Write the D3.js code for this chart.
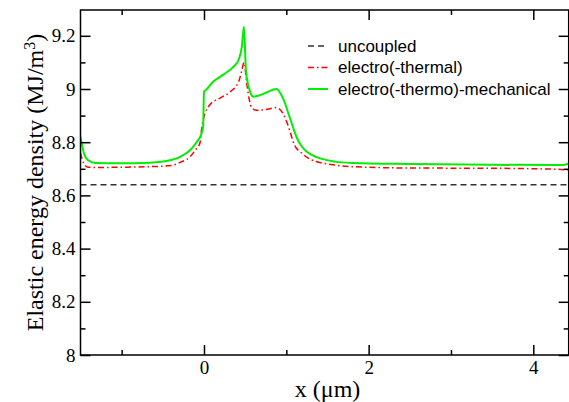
<!DOCTYPE html>
<html>
<head>
<meta charset="utf-8">
<script src="https://cdn.jsdelivr.net/npm/d3@7"></script>
<style>
  body { margin: 0; background: #fff; }
  svg { display: block; }
</style>
</head>
<body>
<div id="chart"></div>
<script>
// data
const xUncoupled = [-1.5, 4.43];
const yUncoupled = [8.64, 8.64];

const xThermal = [-1.5, -1.46, -1.41, -1.32, -1.0, -0.66, -0.4, -0.29, -0.17, -0.09, -0.05, -0.03, -0.01,
  0.07, 0.19, 0.32, 0.42, 0.46, 0.485, 0.52, 0.55, 0.58, 0.64, 0.74, 0.88, 0.96, 1.02, 1.1, 1.19, 1.31,
  1.59, 1.8, 2.5, 3.5, 4.3, 4.43];
const yThermal = [8.76, 8.72, 8.706, 8.705, 8.706, 8.708, 8.712, 8.724, 8.745, 8.777, 8.796, 8.846, 8.883,
  8.94, 8.965, 8.99, 9.027, 9.07, 9.10, 9.02, 8.96, 8.93, 8.92, 8.922, 8.93, 8.908, 8.864, 8.789, 8.758, 8.733,
  8.714, 8.708, 8.703, 8.702, 8.698, 8.695];

const xMech = [-1.5, -1.46, -1.41, -1.32, -1.0, -0.66, -0.4, -0.29, -0.17, -0.09, -0.03, -0.01, 0.0,
  0.02, 0.11, 0.23, 0.36, 0.42, 0.46, 0.485, 0.51, 0.56, 0.6, 0.68, 0.76, 0.88, 0.96, 1.045, 1.13, 1.19,
  1.31, 1.59, 1.8, 2.5, 3.5, 4.35, 4.43];
const yMech = [8.82, 8.76, 8.733, 8.722, 8.721, 8.723, 8.733, 8.745, 8.77, 8.80, 8.833, 8.86, 8.99,
  8.995, 9.027, 9.053, 9.084, 9.109, 9.159, 9.234, 9.068, 8.99, 8.971, 8.977, 8.987, 9.0, 8.965, 8.89, 8.815, 8.783,
  8.752, 8.727, 8.722, 8.718, 8.715, 8.714, 8.72];

const xTicks = [0, 2, 4];
const xMinor = [-1, 1, 3];
const yTicks = [8, 8.2, 8.4, 8.6, 8.8, 9, 9.2];
const yMinor = [8.1, 8.3, 8.5, 8.7, 8.9, 9.1];

const width = 569, height = 402;
const pLeft = 80.5, pRight = 568.7, pTop = 10, pBottom = 355;

const svg = d3.select("#chart")
  .append("svg")
  .attr("width", width)
  .attr("height", height);

const x = d3.scaleLinear().domain([-1.5, 4.43]).range([pLeft, pRight]);
const y = d3.scaleLinear().domain([8, 9.297]).range([pBottom, pTop]);

svg.append("clipPath").attr("id", "clip")
  .append("rect")
  .attr("x", pLeft).attr("y", pTop)
  .attr("width", pRight - pLeft).attr("height", pBottom - pTop);

const line = d3.line()
  .x(d => x(d[0]))
  .y(d => y(d[1]))
  .curve(d3.curveMonotoneX);

const series = [
  {name: "uncoupled", xs: xUncoupled, ys: yUncoupled, color: "#333", width: 1.3, dash: "6,4"},
  {name: "electro(-thermal)", xs: xThermal, ys: yThermal, color: "#ff0000", width: 1.5, dash: "6,3,1.5,3"},
  {name: "electro(-thermo)-mechanical", xs: xMech, ys: yMech, color: "#00ee00", width: 2, dash: null}
];

const g = svg.append("g").attr("clip-path", "url(#clip)");
g.selectAll("path")
  .data(series)
  .join("path")
  .attr("fill", "none")
  .attr("stroke", d => d.color)
  .attr("stroke-width", d => d.width)
  .attr("stroke-dasharray", d => d.dash)
  .attr("d", d => line(d.xs.map((v, i) => [v, d.ys[i]])));

// frame and inward ticks
const axisFont = "'Liberation Serif', 'Times New Roman', serif";

function styleLabels(a) {
  a.select(".domain").remove();
  a.attr("font-family", null).attr("font-size", null);
  a.selectAll("text")
    .style("font-family", axisFont)
    .style("font-size", "19px")
    .attr("fill", "#000");
}

svg.append("g")
  .attr("transform", `translate(0,${pBottom})`)
  .call(d3.axisBottom(x).tickValues(xTicks).tickSizeInner(-10).tickSizeOuter(0).tickPadding(6).tickFormat(d3.format("d")))
  .call(styleLabels);

svg.append("g")
  .attr("transform", `translate(0,${pBottom})`)
  .call(d3.axisBottom(x).tickValues(xMinor).tickSizeInner(-5).tickSizeOuter(0).tickFormat(""))
  .call(a => a.select(".domain").remove());

svg.append("g")
  .attr("transform", `translate(0,${pTop})`)
  .call(d3.axisTop(x).tickValues(xTicks).tickSizeInner(-10).tickSizeOuter(0).tickFormat(""))
  .call(a => a.select(".domain").remove());
svg.append("g")
  .attr("transform", `translate(0,${pTop})`)
  .call(d3.axisTop(x).tickValues(xMinor).tickSizeInner(-5).tickSizeOuter(0).tickFormat(""))
  .call(a => a.select(".domain").remove());

svg.append("g")
  .attr("transform", `translate(${pLeft},0)`)
  .call(d3.axisLeft(y).tickValues(yTicks).tickSizeInner(-10).tickSizeOuter(0).tickFormat(d3.format("")))
  .call(styleLabels)
  .call(a => a.selectAll("text").attr("x", -5));

svg.append("g")
  .attr("transform", `translate(${pLeft},0)`)
  .call(d3.axisLeft(y).tickValues(yMinor).tickSizeInner(-5).tickSizeOuter(0).tickFormat(""))
  .call(a => a.select(".domain").remove());

svg.append("g")
  .attr("transform", `translate(${pRight},0)`)
  .call(d3.axisRight(y).tickValues(yTicks).tickSizeInner(-10).tickSizeOuter(0).tickFormat(""))
  .call(a => a.select(".domain").remove());
svg.append("g")
  .attr("transform", `translate(${pRight},0)`)
  .call(d3.axisRight(y).tickValues(yMinor).tickSizeInner(-5).tickSizeOuter(0).tickFormat(""))
  .call(a => a.select(".domain").remove());

svg.selectAll(".tick line").attr("stroke", "#000").attr("stroke-width", 1.5);

svg.append("rect")
  .attr("x", pLeft).attr("y", pTop)
  .attr("width", pRight - pLeft).attr("height", pBottom - pTop)
  .attr("fill", "none")
  .attr("stroke", "#000")
  .attr("stroke-width", 1.5);

// axis titles
svg.append("text")
  .attr("x", (pLeft + pRight) / 2 + 3)
  .attr("y", 397)
  .attr("text-anchor", "middle")
  .style("font-family", axisFont)
  .style("font-size", "24px")
  .text("x (\u03bcm)");

const yt = svg.append("text")
  .attr("transform", `translate(43,${(pTop + pBottom) / 2}) rotate(-90)`)
  .attr("text-anchor", "middle")
  .style("font-family", axisFont)
  .style("font-size", "24px");
yt.append("tspan").text("Elastic energy density (MJ/m");
yt.append("tspan").attr("baseline-shift", "super").style("font-size", "16px").text("3");
yt.append("tspan").text(")");

// legend
const legend = svg.append("g")
  .style("font-family", "'Liberation Sans', Arial, sans-serif")
  .style("font-size", "17px");
const lgY = d3.scalePoint().domain(series.map(d => d.name)).range([46, 89]);
const items = legend.selectAll("g")
  .data(series)
  .join("g")
  .attr("transform", d => `translate(0,${lgY(d.name)})`);
items.append("line")
  .attr("x1", 308).attr("x2", 328)
  .attr("stroke", d => d.color)
  .attr("stroke-width", d => d.width)
  .attr("stroke-dasharray", d => d.dash);
items.append("text")
  .attr("x", 338)
  .attr("dy", "0.35em")
  .text(d => d.name);
</script>
</body>
</html>
